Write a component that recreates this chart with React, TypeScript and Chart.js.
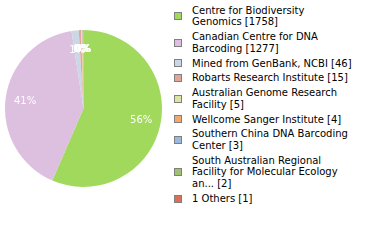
import React, { useEffect, useRef } from "react";
import { Chart, ArcElement, PieController } from "chart.js";

Chart.register(ArcElement, PieController);

const categories = [
  "Centre for Biodiversity\nGenomics",
  "Canadian Centre for DNA\nBarcoding",
  "Mined from GenBank, NCBI",
  "Robarts Research Institute",
  "Australian Genome Research\nFacility",
  "Wellcome Sanger Institute",
  "Southern China DNA Barcoding\nCenter",
  "South Australian Regional\nFacility for Molecular Ecology\nan...",
  "1 Others",
];
const counts = [1758, 1277, 46, 15, 5, 4, 3, 2, 1];
const colors = [
  "#a0d95c",
  "#ddbfe0",
  "#c9d8e4",
  "#e2a699",
  "#dde4a1",
  "#f0a96f",
  "#9ab9dd",
  "#9fc170",
  "#d9705a",
];

const pctPlugin = {
  id: "pctLabels",
  afterDatasetsDraw(chart: any) {
    const ctx = chart.ctx;
    const meta = chart.getDatasetMeta(0);
    const data = chart.data.datasets[0].data as number[];
    const total = data.reduce((a, b) => a + b, 0);
    ctx.save();
    ctx.font = "10px 'DejaVu Sans'";
    ctx.fillStyle = "#ffffff";
    ctx.textAlign = "center";
    ctx.textBaseline = "middle";
    meta.data.forEach((arc: any, i: number) => {
      const { x, y, startAngle, endAngle, outerRadius } = arc.getProps(
        ["x", "y", "startAngle", "endAngle", "outerRadius"],
        true
      );
      const mid = (startAngle + endAngle) / 2;
      const r = outerRadius * 0.75;
      ctx.fillText(
        Math.floor((data[i] / total) * 100) + "%",
        x + Math.cos(mid) * r,
        y + Math.sin(mid) * r
      );
    });
    ctx.restore();
  },
};

export default function App() {
  const ref = useRef<HTMLCanvasElement | null>(null);
  useEffect(() => {
    if (!ref.current) return;
    const chart = new Chart(ref.current, {
      type: "pie",
      data: {
        labels: categories,
        datasets: [
          {
            data: counts,
            backgroundColor: colors,
            borderWidth: 0,
          },
        ],
      },
      options: {
        animation: false,
        responsive: true,
        maintainAspectRatio: false,
        layout: { padding: 0 },
        plugins: { legend: { display: false }, tooltip: { enabled: false } } as any,
      },
      plugins: [pctPlugin],
    });
    return () => chart.destroy();
  }, []);

  return (
    <div
      style={{
        position: "absolute",
        left: 0,
        top: 0,
        width: 380,
        height: 240,
        background: "#fff",
        fontFamily: "'DejaVu Sans'",
      }}
    >
      <div style={{ position: "absolute", left: 5, top: 30, width: 157, height: 157 }}>
        <canvas ref={ref} />
      </div>
      <div style={{ position: "absolute", left: 174, top: 4.7, width: 200 }}>
        {categories.map((c, i) => (
          <div
            key={i}
            style={{
              display: "flex",
              alignItems: "center",
              marginBottom: 3.24,
            }}
          >
            <div
              style={{
                width: 6,
                height: 6,
                border: "1px solid #7f7f7f",
                background: colors[i],
                flex: "none",
              }}
            />
            <div
              style={{
                marginLeft: 10,
                fontSize: 10,
                lineHeight: "11.6px",
                color: "#000",
                whiteSpace: "pre",
              }}
            >
              {c + " [" + counts[i] + "]"}
            </div>
          </div>
        ))}
      </div>
    </div>
  );
}
